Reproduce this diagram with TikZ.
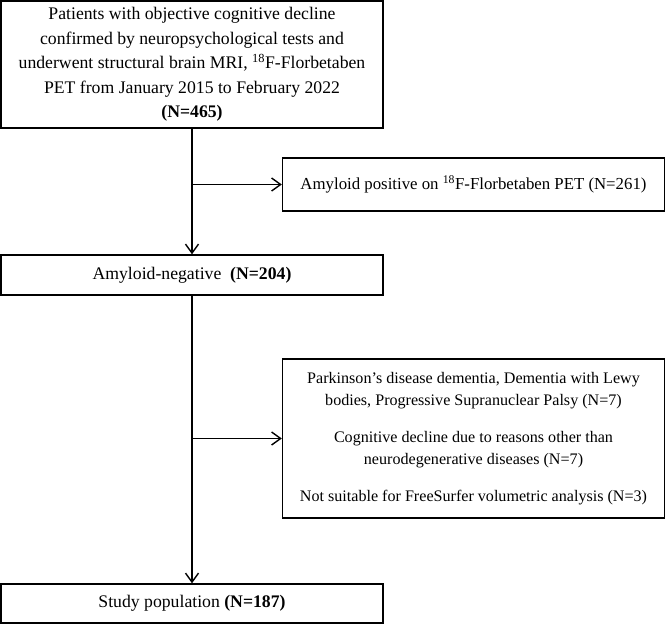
\documentclass[tikz,border=0pt]{standalone}
\usepackage{fontspec}
\setmainfont{Liberation Serif}
\usetikzlibrary{arrows.meta}
\begin{document}
\begin{tikzpicture}[x=1pt,y=1pt,
  box/.style={draw=black, line width=1.4pt, inner sep=0pt, align=center,
    minimum width=382pt, font=\fontsize{17.7}{24.5}\selectfont},
  conn/.style={line width=1.5pt, -{Straight Barb[length=9pt,width=13pt,line width=1.4pt]}}]
\useasboundingbox (0,0) rectangle (669,-626);
\fill[white] (0,0) rectangle (669,-626);
\node[box, minimum height=127pt] (top) at (192,-64.5)
  {Patients with objective cognitive decline\\
   confirmed by neuropsychological tests and\\
   underwent structural brain MRI, \textsuperscript{18}F-Florbetaben\\
   PET from January 2015 to February 2022\\
   \textbf{(N=465)}};
\node[box, minimum height=53pt, font=\fontsize{16.8}{22}\selectfont] (pos) at (473.5,-184.5)
  {Amyloid positive on \textsuperscript{18}F-Florbetaben PET (N=261)};
\node[box, minimum height=40pt] (neg) at (192,-275)
  {Amyloid-negative\ \ \textbf{(N=204)}};
\node[box, minimum height=159pt, font=\fontsize{16.1}{22.5}\selectfont] (exc) at (473.5,-438.5)
  {Parkinson’s disease dementia, Dementia with Lewy\\
   bodies, Progressive Supranuclear Palsy (N=7)\\[14pt]
   Cognitive decline due to reasons other than\\
   neurodegenerative diseases (N=7)\\[14pt]
   Not suitable for FreeSurfer volumetric analysis (N=3)};
\node[box, minimum height=39pt] (study) at (192,-603.5)
  {Study population \textbf{(N=187)}};
\draw[conn] (top.south) -- (neg.north);
\draw[conn] (top.south |- pos.west) -- (pos.west);
\draw[conn] (neg.south) -- (study.north);
\draw[conn] (neg.south |- exc.west) -- (exc.west);
\end{tikzpicture}
\end{document}
